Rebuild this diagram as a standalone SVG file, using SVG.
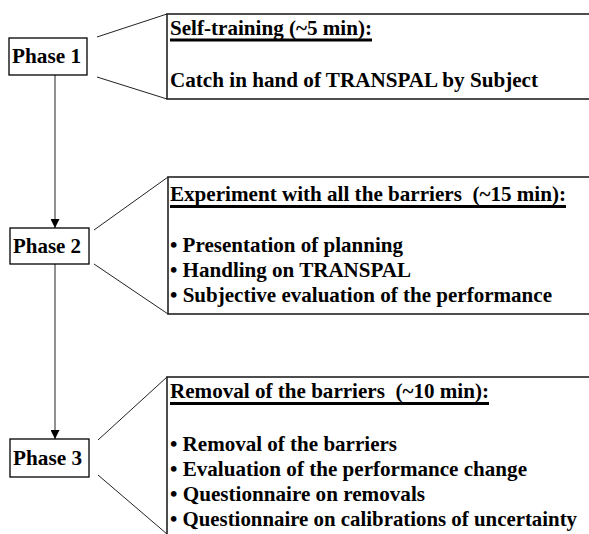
<svg xmlns="http://www.w3.org/2000/svg" width="589" height="534" viewBox="0 0 589 534">
<defs>
<style>
.box{fill:#fff;stroke:#000;stroke-width:1.3}
.call{fill:#fff;stroke:#222;stroke-width:1.6}
.ln{stroke:#222;stroke-width:1;fill:none}
text{font-family:"Liberation Serif",serif;font-size:21px;font-weight:bold;fill:#000}
.ul{fill:#000}
</style>
<marker id="ah" viewBox="0 0 10 10" refX="10" refY="5" markerWidth="9" markerHeight="9" markerUnits="userSpaceOnUse" orient="auto">
<path d="M0,0 L10,5 L0,10 z" fill="#000"/>
</marker>
</defs>
<g id="connectors">
<line class="ln" x1="55" y1="75" x2="55" y2="228" marker-end="url(#ah)"/>
<line class="ln" x1="55" y1="264" x2="55" y2="439" marker-end="url(#ah)"/>
<line class="ln" x1="97" y1="37" x2="167" y2="14"/>
<line class="ln" x1="97" y1="77" x2="167" y2="99"/>
<line class="ln" x1="94" y1="230" x2="168" y2="177"/>
<line class="ln" x1="94" y1="264" x2="168" y2="314"/>
<line class="ln" x1="98" y1="440" x2="167" y2="377"/>
<line class="ln" x1="98" y1="475" x2="167" y2="534"/>
</g>
<g id="phase1">
<rect class="box" x="9" y="38" width="78" height="37"/>
<text x="12" y="63" textLength="69" lengthAdjust="spacingAndGlyphs">Phase 1</text>
</g>
<g id="phase2">
<rect class="box" x="10" y="228" width="79" height="36"/>
<text x="13" y="253" textLength="68" lengthAdjust="spacingAndGlyphs">Phase 2</text>
</g>
<g id="phase3">
<rect class="box" x="10" y="439" width="79" height="38"/>
<text x="13" y="465" textLength="69" lengthAdjust="spacingAndGlyphs">Phase 3</text>
</g>
<g id="callout1">
<rect class="call" x="167" y="14" width="440" height="85"/>
<text x="170" y="35" textLength="202" lengthAdjust="spacingAndGlyphs">Self-training (~5 min):</text>
<rect class="ul" x="170" y="38.5" width="202" height="3"/>
<text x="170" y="87" textLength="368" lengthAdjust="spacingAndGlyphs">Catch in hand of TRANSPAL by Subject</text>
</g>
<g id="callout2">
<rect class="call" x="168" y="177" width="440" height="137"/>
<text x="170" y="201" xml:space="preserve" textLength="396" lengthAdjust="spacingAndGlyphs">Experiment with all the barriers  (~15 min):</text>
<rect class="ul" x="170" y="205" width="396" height="3"/>
<text x="170" y="252" textLength="233" lengthAdjust="spacingAndGlyphs">• Presentation of planning</text>
<text x="170" y="277" textLength="241" lengthAdjust="spacingAndGlyphs">• Handling on TRANSPAL</text>
<text x="170" y="302" textLength="382" lengthAdjust="spacingAndGlyphs">• Subjective evaluation of the performance</text>
</g>
<g id="callout3">
<rect class="call" x="167" y="377" width="440" height="180"/>
<text x="170" y="398" xml:space="preserve" textLength="319" lengthAdjust="spacingAndGlyphs">Removal of the barriers  (~10 min):</text>
<rect class="ul" x="170" y="402" width="319" height="3"/>
<text x="170" y="451" textLength="227" lengthAdjust="spacingAndGlyphs">• Removal of the barriers</text>
<text x="170" y="476" textLength="357" lengthAdjust="spacingAndGlyphs">• Evaluation of the performance change</text>
<text x="170" y="501" textLength="255" lengthAdjust="spacingAndGlyphs">• Questionnaire on removals</text>
<text x="170" y="526" textLength="407" lengthAdjust="spacingAndGlyphs">• Questionnaire on calibrations of uncertainty</text>
</g>
</svg>
